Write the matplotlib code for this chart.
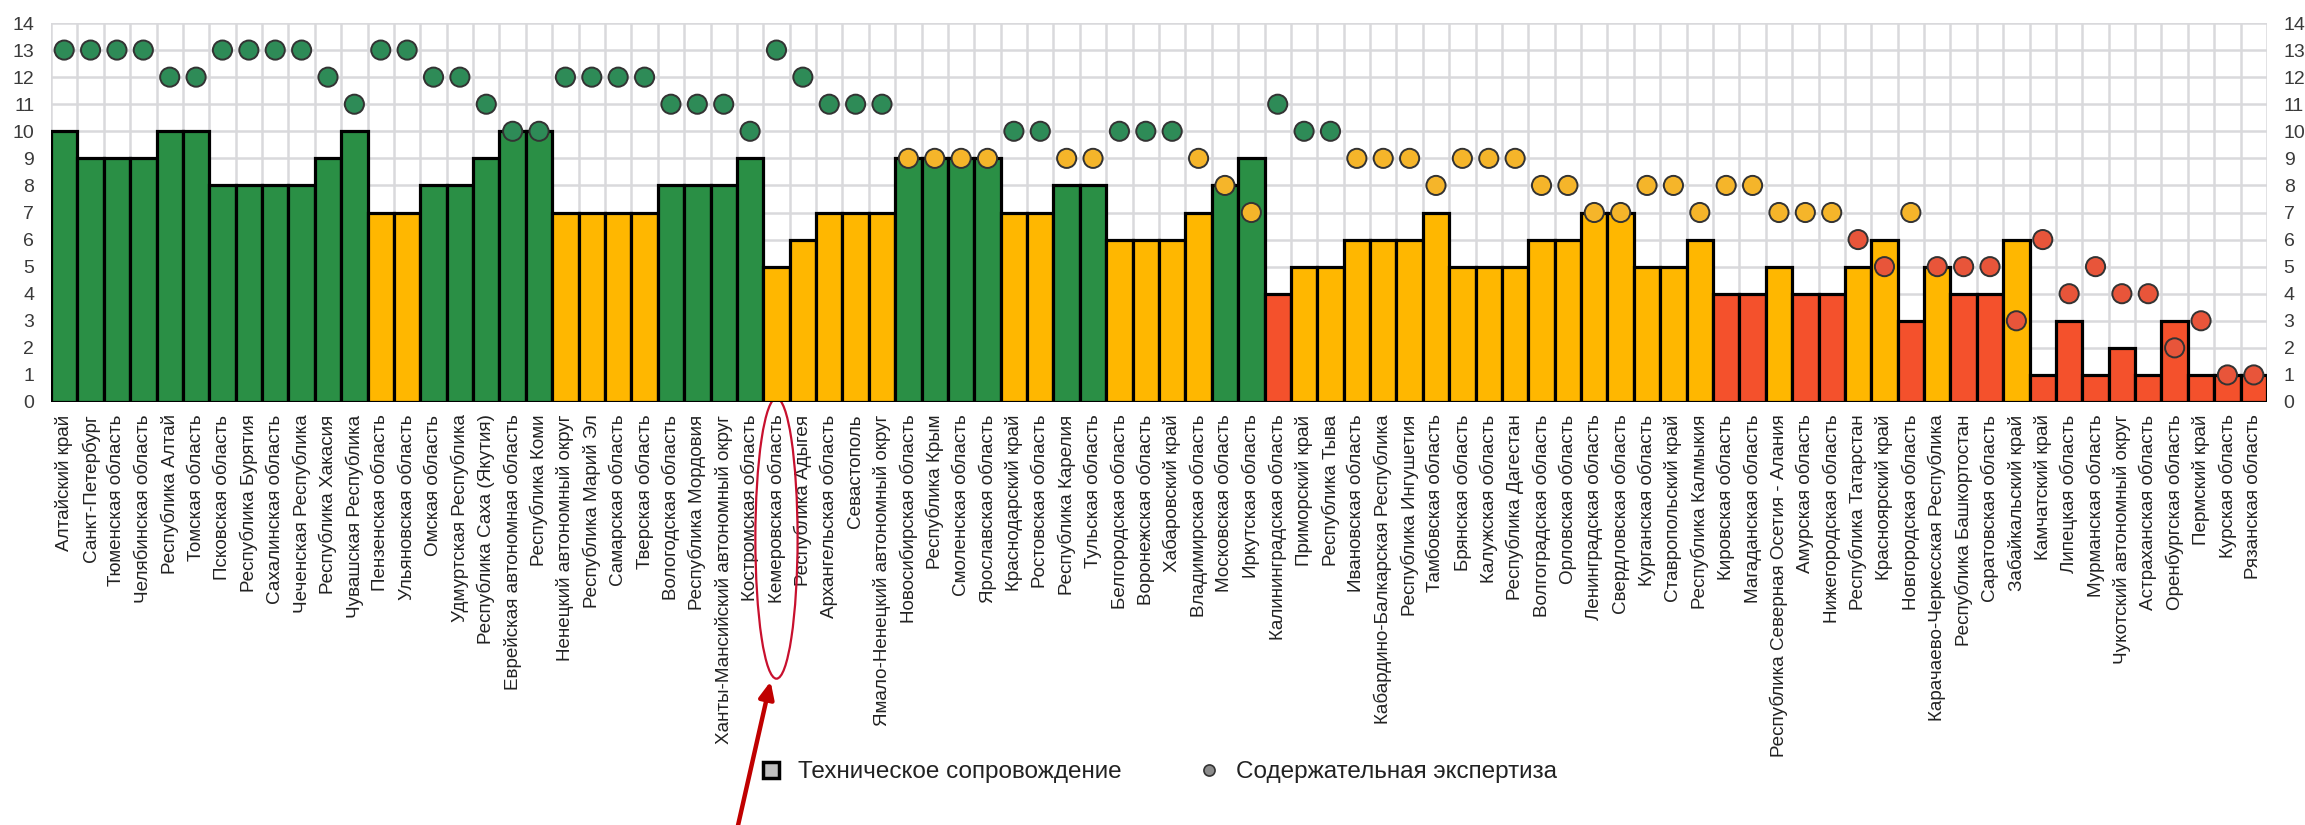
import numpy as np
import matplotlib
matplotlib.use("Agg")
import matplotlib.pyplot as plt
from matplotlib.patches import Ellipse
from matplotlib.lines import Line2D
from matplotlib.transforms import blended_transform_factory

plt.rcParams['font.family'] = ['Liberation Sans', 'DejaVu Sans']

regions = [
    "Алтайский край", "Санкт-Петербург", "Тюменская область", "Челябинская область",
    "Республика Алтай", "Томская область", "Псковская область", "Республика Бурятия",
    "Сахалинская область", "Чеченская Республика", "Республика Хакасия", "Чувашская Республика",
    "Пензенская область", "Ульяновская область", "Омская область", "Удмуртская Республика",
    "Республика Саха (Якутия)", "Еврейская автономная область", "Республика Коми",
    "Ненецкий автономный округ", "Республика Марий Эл", "Самарская область", "Тверская область",
    "Вологодская область", "Республика Мордовия", "Ханты-Мансийский автономный округ",
    "Костромская область", "Кемеровская область", "Республика Адыгея", "Архангельская область",
    "Севастополь", "Ямало-Ненецкий автономный округ", "Новосибирская область", "Республика Крым",
    "Смоленская область", "Ярославская область", "Краснодарский край", "Ростовская область",
    "Республика Карелия", "Тульская область", "Белгородская область", "Воронежская область",
    "Хабаровский край", "Владимирская область", "Московская область", "Иркутская область",
    "Калининградская область", "Приморский край", "Республика Тыва", "Ивановская область",
    "Кабардино-Балкарская Республика", "Республика Ингушетия", "Тамбовская область",
    "Брянская область", "Калужская область", "Республика Дагестан", "Волгоградская область",
    "Орловская область", "Ленинградская область", "Свердловская область", "Курганская область",
    "Ставропольский край", "Республика Калмыкия", "Кировская область", "Магаданская область",
    "Республика Северная Осетия - Алания", "Амурская область", "Нижегородская область",
    "Республика Татарстан", "Красноярский край", "Новгородская область",
    "Карачаево-Черкесская Республика", "Республика Башкортостан", "Саратовская область",
    "Забайкальский край", "Камчатский край", "Липецкая область", "Мурманская область",
    "Чукотский автономный округ", "Астраханская область", "Оренбургская область",
    "Пермский край", "Курская область", "Рязанская область",
]

# Техническое сопровождение (bars)
tech = [10, 9, 9, 9, 10, 10, 8, 8, 8, 8, 9, 10,
        7, 7, 8, 8, 9, 10, 10,
        7, 7, 7, 7, 8, 8, 8, 9,
        5, 6, 7, 7, 7, 9, 9, 9, 9, 7, 7, 8, 8, 6, 6, 6,
        7, 8, 9, 4, 5, 5, 6, 6, 6, 7, 5, 5, 5, 6, 6, 7, 7, 5, 5, 6,
        4, 4, 5, 4, 4, 5, 6, 3, 5, 4, 4, 6, 1, 3, 1, 2, 1, 3, 1, 1, 1]

# Содержательная экспертиза (dots)
expert = [13, 13, 13, 13, 12, 12, 13, 13, 13, 13, 12, 11,
          13, 13, 12, 12, 11, 10, 10,
          12, 12, 12, 12, 11, 11, 11, 10,
          13, 12, 11, 11, 11, 9, 9, 9, 9, 10, 10, 9, 9, 10, 10, 10,
          9, 8, 7, 11, 10, 10, 9, 9, 9, 8, 9, 9, 9, 8, 8, 7, 7, 8, 8, 7,
          8, 8, 7, 7, 7, 6, 5, 7, 5, 5, 5, 3, 6, 4, 5, 4, 4, 2, 3, 1, 1]

highlight = "Кемеровская область"

GREEN = "#2a8f45"
ORANGE = "#ffb700"
RED = "#f4512c"
DOT_GREEN = "#2e8b57"
DOT_ORANGE = "#f5b52a"
DOT_RED = "#e8553a"


def bar_color(v):
    if v >= 8:
        return GREEN
    if v >= 5:
        return ORANGE
    return RED


def dot_color(v):
    if v >= 10:
        return DOT_GREEN
    if v >= 7:
        return DOT_ORANGE
    return DOT_RED


x = np.arange(len(regions))

fig = plt.figure(figsize=(23.05, 8.25), dpi=100)
ax = fig.add_axes([51 / 2305, 1 - 402 / 825, 2216 / 2305, 379 / 825])

ax.bar(x, tech, width=1.0, color=[bar_color(v) for v in tech],
       edgecolor="black", linewidth=2.3, zorder=2)
ax.scatter(x, expert, s=190, c=[dot_color(v) for v in expert],
           edgecolors="#333333", linewidths=1.4, zorder=3)

ax.set_xlim(-0.5, len(regions) - 0.5)
ax.set_ylim(0, 14)
ax.set_yticks(range(0, 15))
ax.set_xticks(x)
ax.set_xticklabels(regions, rotation=90, fontsize=13.6, color="#222222")
ax.set_xticks(np.arange(-0.5, len(regions), 1.0), minor=True)

ax.grid(False)
ax.yaxis.grid(True, color="#d9d9dc", linewidth=1.8, zorder=0)
ax.xaxis.grid(True, which="minor", color="#d9d9dc", linewidth=1.8, zorder=0)
ax.set_axisbelow(True)
for s in ax.spines.values():
    s.set_visible(False)
ax.tick_params(axis="x", which="both", length=0, pad=9)
ax.tick_params(axis="y", length=0, labelsize=14, labelcolor="#3a3a3a",
               left=True, right=True, labelleft=True, labelright=True, pad=12)

# highlighted region: ellipse around its label and an arrow
k = regions.index(highlight)
trans = blended_transform_factory(ax.transData, ax.transAxes)
ax.add_patch(Ellipse((k, -0.36), 1.6, 0.74, transform=trans, fill=False,
                     edgecolor="#c8102e", linewidth=1.6, clip_on=False))
ax.annotate("", xy=(k - 0.2, -0.73), xycoords=trans,
            xytext=(k - 1.5, -1.13), textcoords=trans,
            arrowprops=dict(arrowstyle="-|>,head_length=1.0,head_width=0.45",
                            color="#c00000", linewidth=3.2),
            annotation_clip=False)

handles = [
    Line2D([], [], marker="s", linestyle="none", markersize=11,
           markerfacecolor="#bfbfbf", markeredgecolor="black", markeredgewidth=2.5),
    Line2D([], [], marker="o", linestyle="none", markersize=8,
           markerfacecolor="#8c8c8c", markeredgecolor="#333333", markeredgewidth=1.2),
]
fig.legend(handles, ["Техническое сопровождение", "Содержательная экспертиза"],
           loc="center", bbox_to_anchor=(1152 / 2305, 1 - 772 / 825), ncol=2,
           frameon=False, fontsize=17.5, handletextpad=0.1, columnspacing=2.6,
           labelcolor="#222222")

fig.savefig("out.png", dpi=100)
